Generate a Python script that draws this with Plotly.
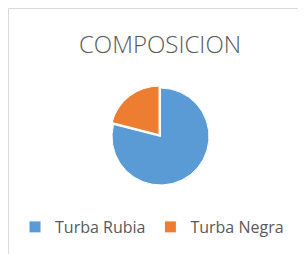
import plotly.graph_objects as go

# Data
labels = ["Turba Rubia", "Turba Negra"]
values = [79, 21]
colors = ["#5B9BD5", "#ED7D31"]
title_text = "COMPOSICION"

W, H = 298, 246

fig = go.Figure(
    go.Pie(
        labels=labels,
        values=values,
        marker=dict(colors=colors, line=dict(color="white", width=1)),
        sort=False,
        direction="clockwise",
        rotation=0,
        pull=[0, 0.05],
        textinfo="none",
        hoverinfo="label+percent",
        domain=dict(x=[0.3409, 0.6826], y=[0.2707, 0.6846]),
    )
)

border = dict(color="#D9D9D9", width=1)

fig.update_layout(
    width=W,
    height=H,
    margin=dict(l=0, r=0, t=0, b=0, autoexpand=False),
    paper_bgcolor="white",
    plot_bgcolor="white",
    title=dict(
        text=title_text,
        x=152 / W,
        xanchor="center",
        y=1 - 37 / H,
        yanchor="middle",
        font=dict(family="Open Sans", size=24, color="#595959", weight=300),
    ),
    showlegend=True,
    legend=dict(
        orientation="h",
        x=7 / W,
        xanchor="left",
        y=1 - 219 / H,
        yanchor="middle",
        font=dict(family="Open Sans", size=16, color="#595959"),
        bgcolor="rgba(0,0,0,0)",
    ),
    shapes=[
        dict(type="line", xref="paper", yref="paper",
             x0=0.5 / W, x1=1, y0=1 - 0.5 / H, y1=1 - 0.5 / H,
             line=border, layer="below"),
        dict(type="line", xref="paper", yref="paper",
             x0=0.5 / W, x1=0.5 / W, y0=0, y1=1 - 0.5 / H,
             line=border, layer="below"),
    ],
)

fig.write_html("out.html")
